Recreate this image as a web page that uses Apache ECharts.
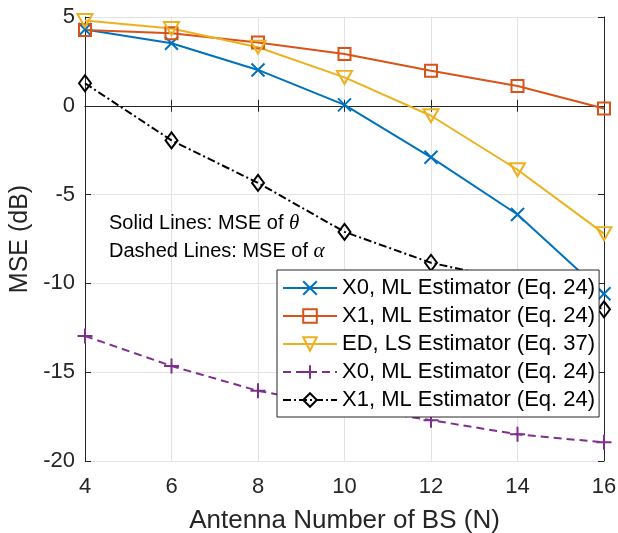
<!DOCTYPE html>
<html>
<head>
<meta charset="utf-8">
<script src="https://cdn.jsdelivr.net/npm/echarts@6/dist/echarts.min.js"></script>
<style>html,body{margin:0;padding:0;background:#fff}#c{width:618px;height:533px}</style>
</head>
<body>
<div id="c"></div>
<script>
var antennas = [4, 6, 8, 10, 12, 14, 16];
var yTicks = [-20, -15, -10, -5, 0, 5];
var x0ML = [4.3, 3.52, 2.02, 0.05, -2.9, -6.12, -10.58];
var x1ML = [4.27, 4.08, 3.56, 2.92, 1.97, 1.12, -0.15];
var edLS = [4.8, 4.35, 3.3, 1.6, -0.56, -3.6, -7.2];
var x0Alpha = [-12.96, -14.65, -16.05, -16.95, -17.7, -18.5, -18.95];
var x1Alpha = [1.27, -1.95, -4.34, -7.1, -8.84, -9.9, -11.46];
var seriesNames = ['X0, ML Estimator (Eq. 24)', 'X1, ML Estimator (Eq. 24)', 'ED, LS Estimator (Eq. 37)', 'X0, ML Estimator (Eq. 24) ', 'X1, ML Estimator (Eq. 24)  '];
var legendLabels = ['X0, ML Estimator (Eq. 24)', 'X1, ML Estimator (Eq. 24)', 'ED, LS Estimator (Eq. 37)', 'X0, ML Estimator (Eq. 24)', 'X1, ML Estimator (Eq. 24)'];
var xTitle = 'Antenna Number of BS (N)';
var yTitle = 'MSE (dB)';

function pairs(v) { return antennas.map(function (a, i) { return [a, v[i]]; }); }
var FONT = 'Liberation Sans, Arial, sans-serif';
var AX = '#262626';

function mk(name, data, color, symbol, size, dash) {
  return {
    name: name, type: 'line', data: pairs(data), clip: false,
    symbol: symbol, symbolSize: size, showSymbol: true,
    lineStyle: { color: color, width: 2, type: dash || 'solid' },
    itemStyle: { color: 'none', borderColor: color, borderWidth: 2 },
    emphasis: { disabled: true }, animation: false, z: 3
  };
}

var chart = echarts.init(document.getElementById('c'), null, { renderer: 'canvas' });
var axisCommon = {
  type: 'value',
  axisLine: { show: true, lineStyle: { color: AX, width: 1 } },
  axisTick: { show: true, inside: true, length: 6, lineStyle: { color: AX } },
  axisLabel: { color: AX, fontSize: 22, fontFamily: FONT },
  splitLine: { show: true, lineStyle: { color: '#e3e3e3', width: 1 } }
};
var option = {
  animation: false,
  backgroundColor: '#fff',
  grid: { left: 85, right: 14, top: 17, bottom: 72, containLabel: false, outerBoundsMode: 'none' },
  xAxis: [
    Object.assign({}, axisCommon, {
      min: 4, max: 16, interval: 2, position: 'bottom',
      axisLabel: { color: AX, fontSize: 22, fontFamily: FONT, margin: 15 },
      name: xTitle, nameLocation: 'middle', nameGap: 47,
      nameTextStyle: { color: AX, fontSize: 26, fontFamily: FONT }
    }),
    Object.assign({}, axisCommon, {
      min: 4, max: 16, interval: 2, position: 'top',
      axisLabel: { show: false }, splitLine: { show: false }
    })
  ],
  yAxis: [
    Object.assign({}, axisCommon, {
      min: -20, max: 5, interval: 5, position: 'left',
      axisLabel: { color: AX, fontSize: 22, fontFamily: FONT, margin: 10 },
      name: yTitle, nameLocation: 'middle', nameGap: 50,
      nameTextStyle: { color: AX, fontSize: 25, fontFamily: FONT }
    }),
    Object.assign({}, axisCommon, {
      min: -20, max: 5, interval: 5, position: 'right',
      axisLabel: { show: false }, splitLine: { show: false }
    })
  ],
  legend: {
    orient: 'vertical', left: 277, top: 270,
    data: seriesNames,
    formatter: function (n) { return legendLabels[seriesNames.indexOf(n)]; },
    itemWidth: 54, itemHeight: 17, itemGap: 6,
    padding: [7, 4, 6, 5],
    backgroundColor: '#fff', borderColor: AX, borderWidth: 1, borderRadius: 0,
    textStyle: { color: '#000', fontSize: 22, fontFamily: FONT, lineHeight: 22 },
    selectedMode: false
  },
  graphic: [
    { type: 'text', left: 109, top: 213, z: 5,
      style: { text: 'Solid Lines: MSE of {i|θ}', fill: '#000', font: '20px ' + FONT,
        rich: { i: { fontStyle: 'italic', fontFamily: 'Liberation Serif, serif', fontSize: 21, fill: '#000' } } } },
    { type: 'text', left: 109, top: 241, z: 5,
      style: { text: 'Dashed Lines: MSE of {i|α}', fill: '#000', font: '20px ' + FONT,
        rich: { i: { fontStyle: 'italic', fontFamily: 'Liberation Serif, serif', fontSize: 21, fill: '#000' } } } }
  ],
  series: [
    mk(seriesNames[0], x0ML, '#0072BD', 'path://M0 0L10 10M10 0L0 10', 13),
    mk(seriesNames[1], x1ML, '#D95319', 'rect', 12),
    mk(seriesNames[2], edLS, '#EDB120', 'path://M0 0L10 0L5 8.66Z', [15, 13]),
    mk(seriesNames[3], x0Alpha, '#7E2F8E', 'path://M5 0L5 10M0 5L10 5', 15, [8, 5]),
    mk(seriesNames[4], x1Alpha, '#000000', 'diamond', [12, 16], [8, 3, 2, 3])
  ]
};
chart.setOption(option);
</script>
</body>
</html>
